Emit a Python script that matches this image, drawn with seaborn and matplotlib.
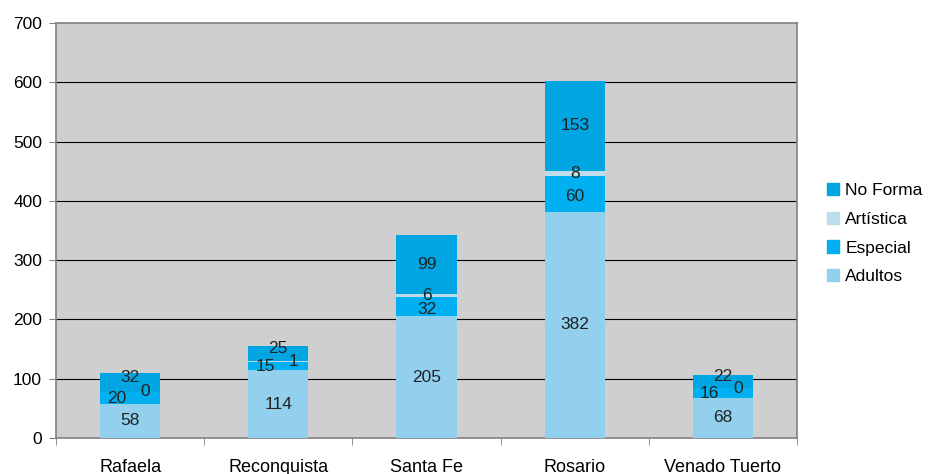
import numpy as np
import pandas as pd
import seaborn as sns
import matplotlib.pyplot as plt

ciudades = ["Rafaela", "Reconquista", "Santa Fe", "Rosario", "Venado Tuerto"]
adultos = [58, 114, 205, 382, 68]
especial = [20, 15, 32, 60, 16]
artistica = [0, 1, 6, 8, 0]
no_forma = [32, 25, 99, 153, 22]

series = ["Adultos", "Especial", "Artística", "No Forma"]
colores = {"Adultos": "#92D0EE", "Especial": "#00B0F0",
           "Artística": "#BEDDEA", "No Forma": "#00A5E2"}

df = pd.DataFrame({"ciudad": ciudades, "Adultos": adultos, "Especial": especial,
                   "Artística": artistica, "No Forma": no_forma})
cum = df[series].cumsum(axis=1)
bottoms = cum.shift(1, axis=1).fillna(0)

plt.rcParams["font.family"] = ["Liberation Sans", "DejaVu Sans"]
fig = plt.figure(figsize=(9.29, 4.74), dpi=100)
ax = fig.add_axes([56 / 929, 1 - 438 / 474, 741 / 929, 415 / 474])
ax.set_facecolor("#CFCFCF")

# stacked bars: draw cumulative totals from the top series down
for s in series[::-1]:
    sns.barplot(x=df["ciudad"], y=cum[s], color=colores[s], width=0.405,
                saturation=1, ax=ax, zorder=3)

ax.set_ylim(0, 700)
ax.set_xlim(-0.5, 4.5)
ax.set_yticks(range(0, 701, 100))
for y in range(100, 700, 100):
    ax.axhline(y, color="black", lw=0.8, zorder=1)

# data labels
for i in range(len(ciudades)):
    for s in series:
        val = df.loc[i, s]
        yc = bottoms.loc[i, s] + val / 2
        dx, dy = 0, 0
        if s == "Especial":
            dy = -4
        if df.loc[i, "Especial"] < 25:
            if s == "Especial":
                dx, dy = -0.09, -1
            elif s == "Artística":
                dx = 0.1
            elif s == "No Forma":
                dy = 8
        ax.text(i + dx, yc + dy, str(val), ha="center", va="center",
                fontsize=12.5, color="#222222", zorder=5)

for sp in ax.spines.values():
    sp.set_color("#808080")
    sp.set_linewidth(1.2)

ax.set_xticks(range(len(ciudades)))
ax.set_xticklabels(ciudades, fontsize=13)
ax.set_xticks(np.arange(-0.5, 4.6, 1), minor=True)
ax.tick_params(axis="x", which="major", length=0, pad=15)
ax.tick_params(axis="x", which="minor", length=5, color="#808080")
ax.tick_params(axis="y", length=5, color="#808080", labelsize=12.5, pad=5)
ax.set_xlabel("")
ax.set_ylabel("")

handles = [plt.Rectangle((0, 0), 1, 1, color=colores[s]) for s in series[::-1]]
fig.legend(handles, series[::-1], loc="upper left",
           bbox_to_anchor=(827 / 929, 1 - 183 / 474), frameon=False,
           fontsize=12.5, handlelength=0.7, handleheight=0.7, handletextpad=0.35,
           labelspacing=0.78, borderaxespad=0, borderpad=0)

fig.savefig("out.png", dpi=100)
